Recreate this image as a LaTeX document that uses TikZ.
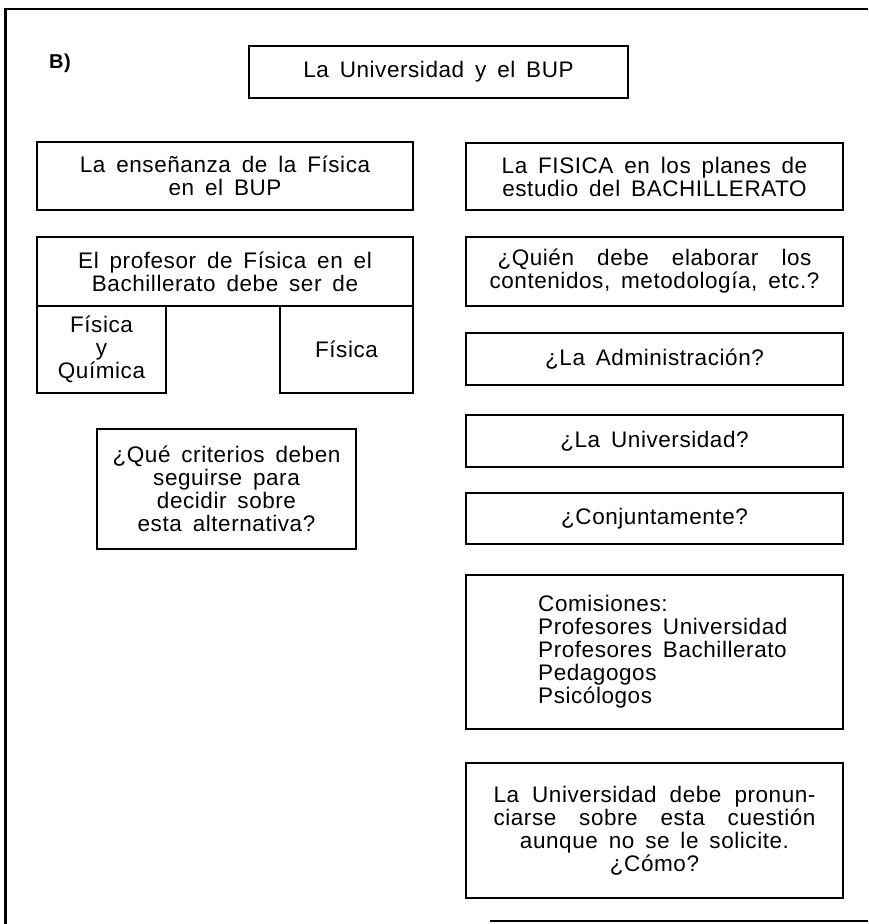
\documentclass[tikz,border=0pt]{standalone}
\usepackage{fontspec}
\setmainfont{Liberation Sans}[LetterSpace=2.5,WordSpace=1.6]
\usetikzlibrary{positioning}
\newcommand{\letra}{\fontsize{22.5}{23}\selectfont}
\newcommand{\letrab}{\fontsize{20}{23}\selectfont\bfseries}

\begin{document}
\begin{tikzpicture}[x=1pt,y=-1pt]
  \tikzset{CajaStyle/.style = {shape        = rectangle,
                               draw         = black,
                               line width   = 1.3pt,
                               inner sep    = 0pt,
                               outer sep    = 0pt,
                               align        = center,
                               font         = \letra},
           dim/.style 2 args={minimum width=#1, minimum height=#2}}
  \useasboundingbox (0,0) rectangle (868,924);
	%%% MARCO %%%
	\draw[line width=3pt] (5,924) -- (5,9);
	\draw[line width=2.4pt] (3.5,9) -- (868,9);
	\draw[line width=2pt] (490,921) -- (868,921);
	%%% TITULO %%%
	\node[font=\letrab, inner sep=0pt] (letra) at (60,63) {B)};
	\node[CajaStyle, dim={379pt}{52pt}] (titulo) at (438.5,72) {La Universidad y el BUP};
	%%% COLUMNA IZQUIERDA %%%
	%
	\node[CajaStyle, dim={376pt}{68pt}] (ensenanza) at (225,176) {La enseñanza de la Física\\en el BUP};
	\node[CajaStyle, dim={376pt}{69pt}, below=27pt of ensenanza] (profesor) {El profesor de Física en el\\Bachillerato debe ser de};
	\node[CajaStyle, dim={129pt}{87pt}, anchor=north west] (fq) at (profesor.south west) {Física\\y\\Química};
	\node[CajaStyle, dim={133pt}{87pt}, anchor=north east] (fis) at (profesor.south east) {Física};
	%
	\node[CajaStyle, dim={259pt}{120pt}, anchor=north] (criterios) at (226.5,429) {¿Qué criterios deben\\seguirse para\\decidir sobre\\esta alternativa?};
	%%% COLUMNA DERECHA %%%
	%
	\node[CajaStyle, dim={377pt}{67pt}] (planes) at (654.5,176.5) {La FISICA en los planes de\\estudio del BACHILLERATO};
	\node[CajaStyle, dim={377pt}{69pt}, below=27pt of planes] (quien) {\makebox[314pt][s]{¿Quién debe elaborar los}\\contenidos, metodología, etc.?};
	\node[CajaStyle, dim={377pt}{52pt}, below=27pt of quien] (admin) {¿La Administración?};
	\node[CajaStyle, dim={377pt}{52pt}, below=30pt of admin] (univ) {¿La Universidad?};
	\node[CajaStyle, dim={377pt}{51pt}, below=26pt of univ] (conj) {¿Conjuntamente?};
	%
	\node[CajaStyle, dim={377pt}{154pt}, below=31pt of conj] (comis) {};
	\node[anchor=west, align=left, font=\letra, inner sep=0pt] (comtxt) at ([xshift=72pt]comis.west) {Comisiones:\\Profesores Universidad\\Profesores Bachillerato\\Pedagogos\\Psicólogos};
	%
	\node[CajaStyle, dim={377pt}{135pt}, below=34pt of comis] (pronun) {\makebox[322pt][s]{La Universidad debe pronun-}\\\makebox[322pt][s]{ciarse sobre esta cuestión}\\aunque no se le solicite.\\¿Cómo?};
\end{tikzpicture}
\end{document}
